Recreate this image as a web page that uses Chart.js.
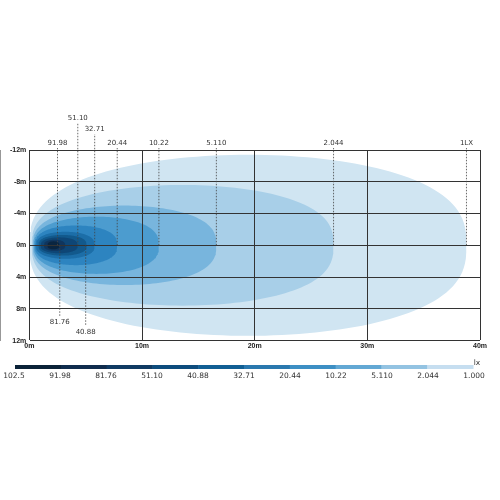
<!DOCTYPE html>
<html>
<head>
<meta charset="UTF-8">
<script src="https://cdn.jsdelivr.net/npm/chart.js"></script>
<style>
  body { margin: 0; background: #fff; }
  #wrap { width: 500px; height: 500px; }
</style>
</head>
<body>
<div id="wrap"><canvas id="lux"></canvas></div>
<script>
// iso-lux contours, darkest first (values in metres)
const levels    = ['91.98', '81.76', '51.10', '40.88', '32.71', '20.44', '10.22', '5.110', '2.044', '1.000'];
const startX    = [1.6, 1.3, 1.0, 0.8, 0.6, 0.5, 0.4, 0.3, 0.2, 0.0];
const reachX    = [2.7, 3.2, 4.3, 5.1, 5.8, 7.8, 11.5, 16.6, 27.0, 38.8];
const halfWidth = [0.5, 0.7, 1.0, 1.3, 1.7, 2.5, 3.6, 5.0, 7.6, 11.4];
const fills     = ['#0a2540', '#10355d', '#0e4676', '#12598c', '#1c6ea8', '#2d84c0', '#4c9ccf', '#78b5dd', '#a8cfe8', '#d0e5f2'];

// dashed callouts: label, x (m), label above (true) or below
const calloutText = ['91.98', '51.10', '32.71', '20.44', '10.22', '5.110', '2.044', '1LX', '81.76', '40.88'];
const calloutX    = [2.5, 4.3, 5.8, 7.8, 11.5, 16.6, 27.0, 38.8, 2.7, 5.0];
const calloutUp   = [true, true, true, true, true, true, true, true, false, false];

// colour bar
const barLabels = ['102.5', '91.98', '81.76', '51.10', '40.88', '32.71', '20.44', '10.22', '5.110', '2.044', '1.000'];
const barColors = ['#0a2238', '#0f2c4d', '#103a63', '#0d4c7d', '#115f94', '#2a78ae', '#3d8fc4', '#63a8d4', '#93c3e2', '#c6def0'];

const xTicks = [0, 10, 20, 30, 40];
const yTicks = [-12, -8, -4, 0, 4, 8, 12];

function half(i, sign) {
  const c = (startX[i] + reachX[i]) / 2, a = (reachX[i] - startX[i]) / 2;
  const pts = [];
  for (let k = 0; k <= 80; k++) {
    const t = Math.PI - Math.PI * k / 80;
    pts.push({ x: c + a * Math.cos(t), y: sign * halfWidth[i] * Math.pow(Math.sin(t), 0.75) });
  }
  return pts;
}

const datasets = [];
levels.forEach((lv, i) => {
  [-1, 1].forEach(s => datasets.push({
    label: lv, data: half(i, s), showLine: true, fill: 'origin',
    backgroundColor: fills[i], borderWidth: 0, pointRadius: 0, tension: 0
  }));
});

const extras = {
  id: 'extras',
  afterDraw(chart) {
    const ctx = chart.ctx, xs = chart.scales.x, ys = chart.scales.y;
    ctx.save();
    ctx.fillStyle = '#fff';
    ctx.fillRect(0, 0, chart.width, 4);
    ctx.font = '7px "DejaVu Sans", sans-serif';
    ctx.fillStyle = '#333';
    ctx.textAlign = 'center';
    calloutText.forEach((t, i) => {
      const px = xs.getPixelForValue(calloutX[i]);
      let ly;
      if (calloutUp[i]) ly = t === '51.10' ? 120 : t === '32.71' ? 131 : 145;
      else ly = t === '81.76' ? 324 : 334;
      ctx.setLineDash([1.5, 1.5]);
      ctx.strokeStyle = '#444';
      ctx.lineWidth = 0.8;
      ctx.beginPath();
      ctx.moveTo(px, ys.getPixelForValue(0));
      ctx.lineTo(px, calloutUp[i] ? ly + 3 : ly - 8);
      ctx.stroke();
      ctx.fillText(t, px, ly);
    });
    // colour bar
    const x0 = 15, x1 = 473, y0 = 365, h = 4;
    const w = (x1 - x0) / barColors.length;
    barColors.forEach((c, i) => { ctx.fillStyle = c; ctx.fillRect(x0 + i * w, y0, w + 0.5, h); });
    ctx.fillStyle = '#333';
    ctx.font = '7.5px "DejaVu Sans", sans-serif';
    barLabels.forEach((t, i) => {
      const step = (x1 - x0 + 2) / (barLabels.length - 1);
      ctx.fillText(t, 14 + i * step, 378);
    });
    ctx.fillText('lx', 477, 365);
    ctx.restore();
  }
};

new Chart(document.getElementById('lux'), {
  type: 'scatter',
  data: { datasets },
  options: {
    responsive: true, maintainAspectRatio: false, animation: false,
    layout: { padding: { left: 7, right: 20, top: 150, bottom: 149 } },
    plugins: { legend: { display: false }, tooltip: { enabled: false } },
    scales: {
      x: {
        type: 'linear', min: 0, max: 40,
        afterBuildTicks: s => { s.ticks = xTicks.map(v => ({ value: v })); },
        ticks: { callback: v => v + 'm', color: '#222', font: { size: 7, weight: 'bold' }, padding: 1, maxRotation: 0 },
        grid: { color: '#333', lineWidth: 1, z: 1, drawTicks: false },
        border: { color: '#333' }
      },
      y: {
        type: 'linear', min: -12, max: 12, reverse: true,
        afterBuildTicks: s => { s.ticks = yTicks.map(v => ({ value: v })); },
        ticks: { callback: v => v + 'm', color: '#222', font: { size: 7, weight: 'bold' }, padding: 3 },
        grid: { color: '#333', lineWidth: 1, z: 1, drawTicks: false },
        border: { color: '#333' }
      }
    }
  },
  plugins: [extras]
});
</script>
</body>
</html>
